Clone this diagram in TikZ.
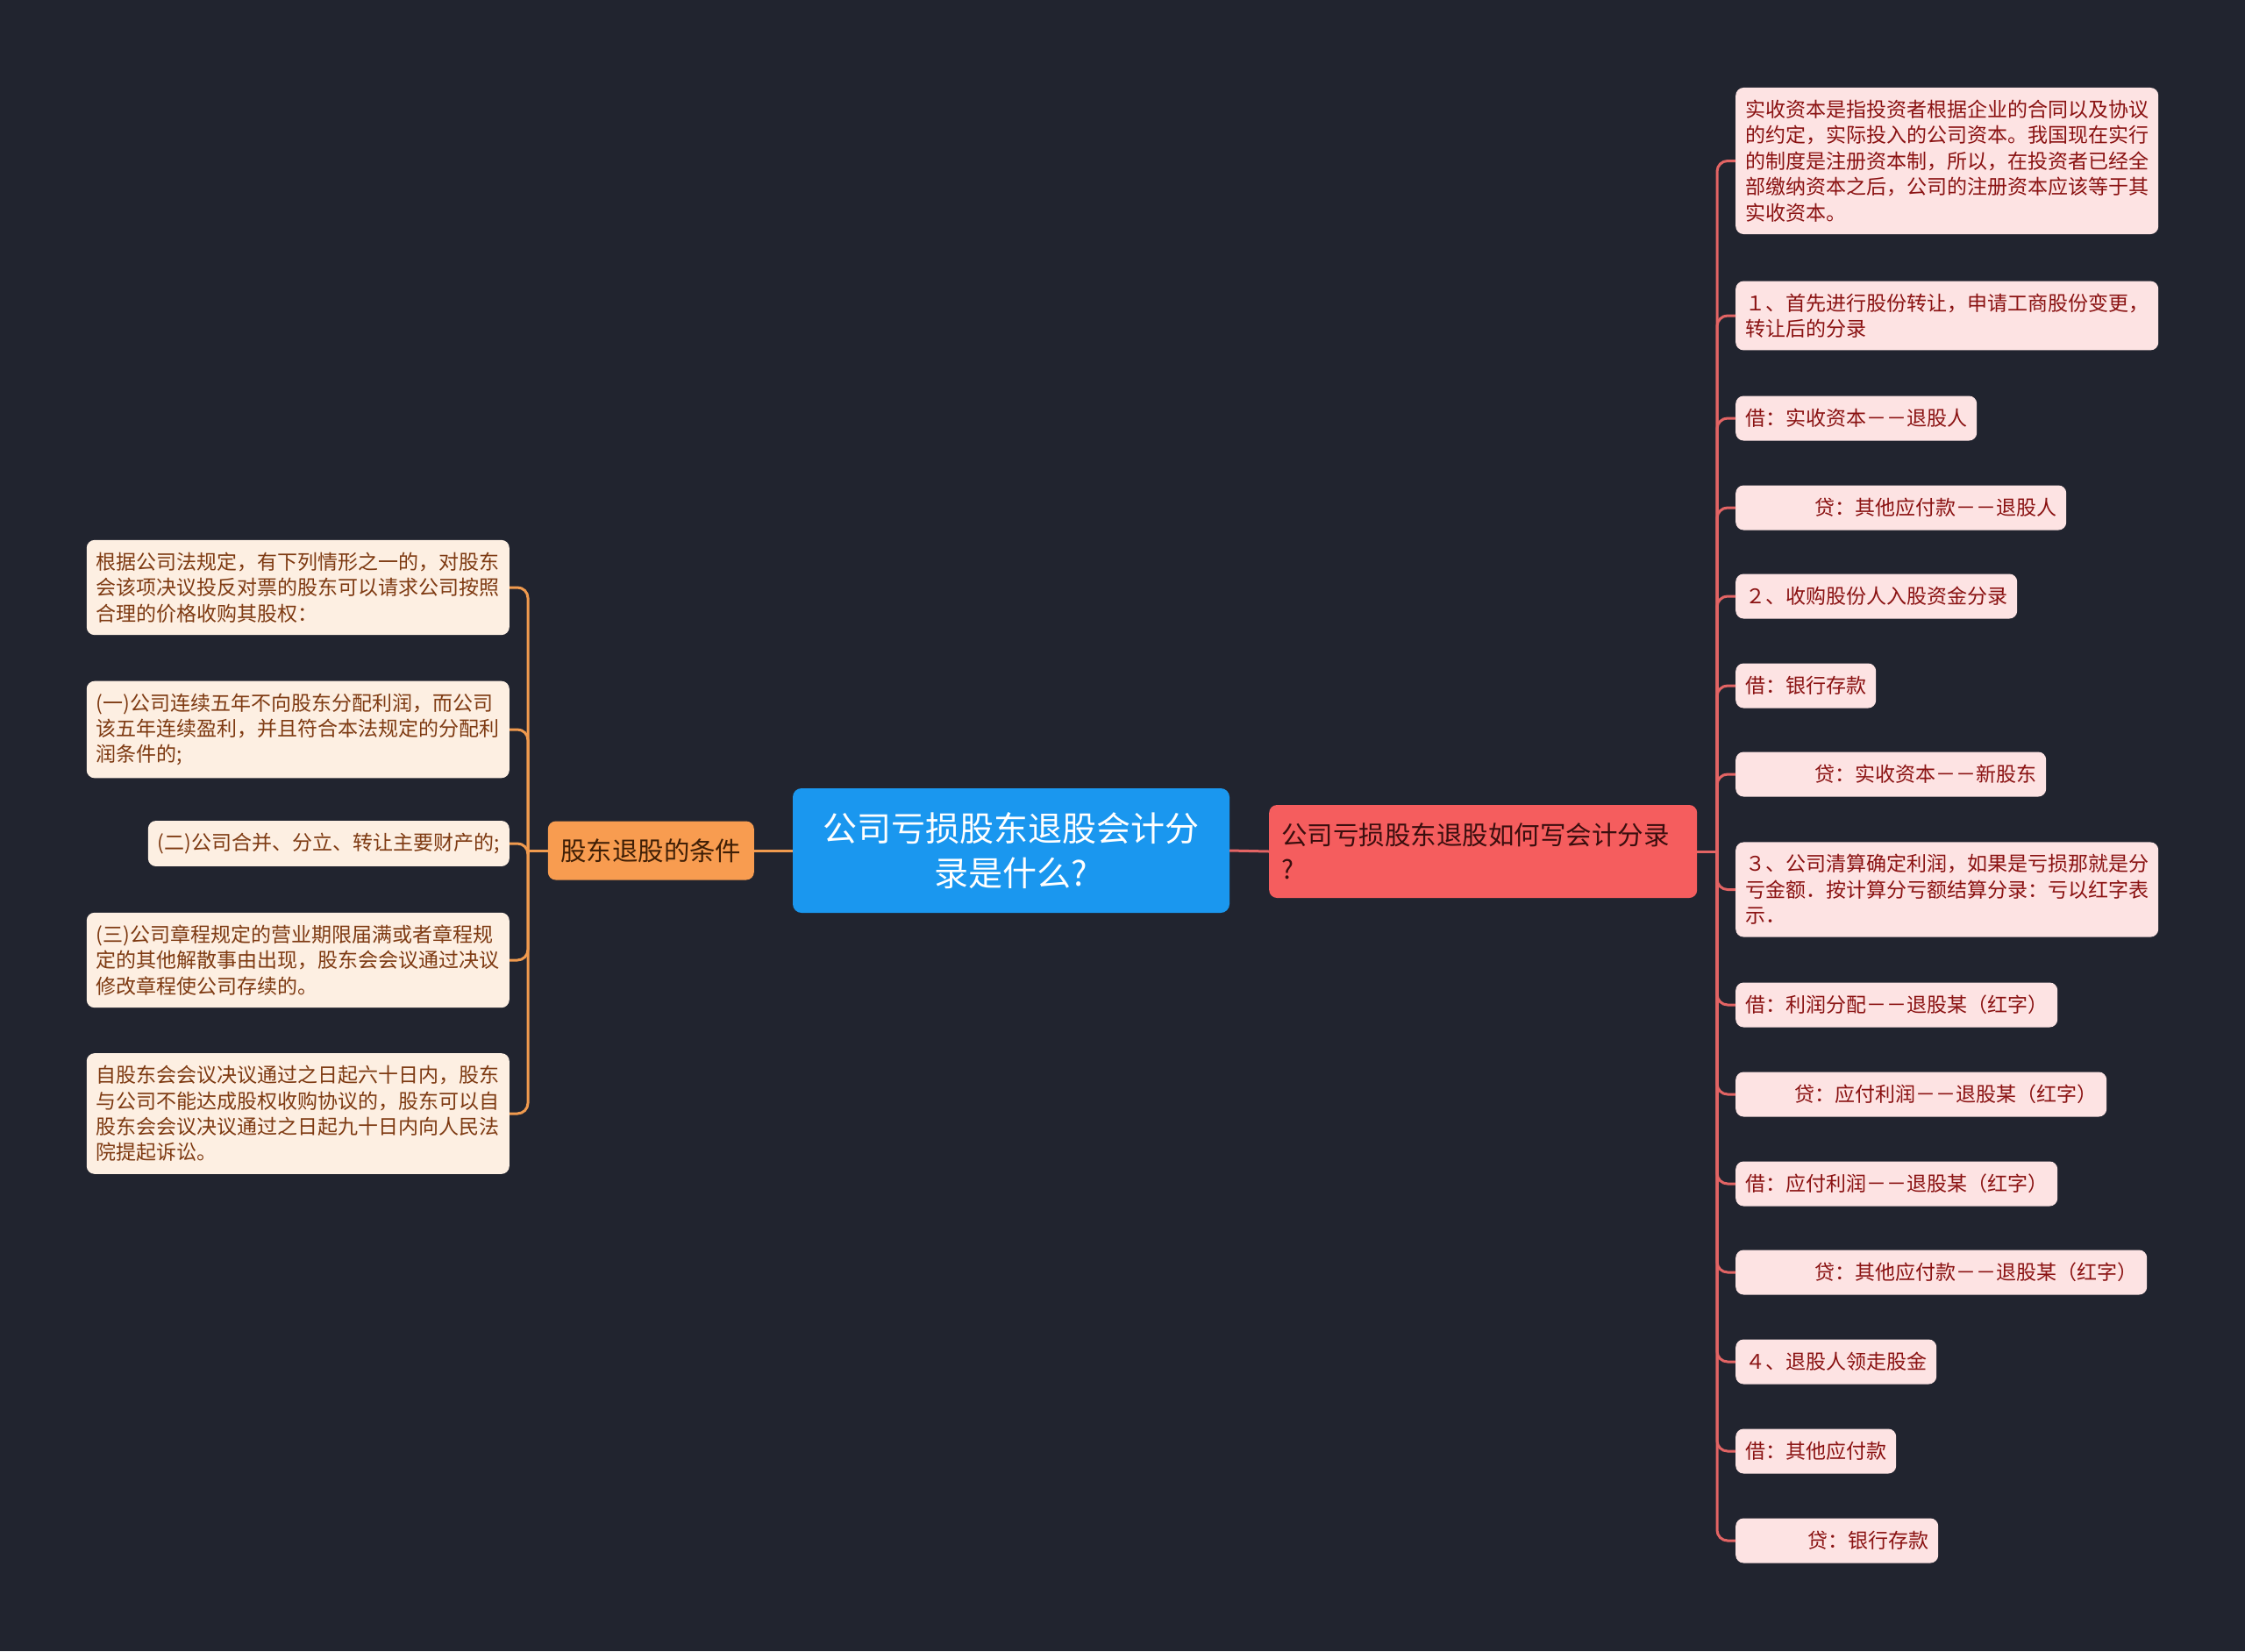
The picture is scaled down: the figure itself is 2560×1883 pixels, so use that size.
\documentclass[tikz,border=0pt]{standalone}
\usepackage{fontspec}
\setmainfont{Noto Sans CJK SC}
\definecolor{bgcol}{HTML}{21242F}
\definecolor{bluefill}{HTML}{1A97EF}
\definecolor{redfill}{HTML}{F55D5E}
\definecolor{orangefill}{HTML}{F89C50}
\definecolor{pinkfill}{HTML}{FDE3E3}
\definecolor{creamfill}{HTML}{FDEFE2}
\definecolor{redtext}{HTML}{8A1212}
\definecolor{browntext}{HTML}{7E3A12}
\definecolor{redline}{HTML}{E36464}
\definecolor{orangeline}{HTML}{F09A4E}
\definecolor{darkred}{HTML}{3A0E0E}
\definecolor{darkbrown}{HTML}{3F1F06}
\begin{document}
\begin{tikzpicture}[x=1pt,y=-1pt,
  leafR/.style={fill=pinkfill, text=redtext, rounded corners=9pt,
    font=\fontsize{23}{29.4}\selectfont, inner xsep=11pt, inner ysep=14pt,
    minimum height=51pt, anchor=west, align=left},
  leafL/.style={fill=creamfill, text=browntext, rounded corners=9pt,
    font=\fontsize{23}{29.4}\selectfont, inner xsep=11pt, inner ysep=14pt,
    minimum height=51pt, anchor=east, align=left},
  conR/.style={draw=redline, line width=3pt, rounded corners=12pt},
  conL/.style={draw=orangeline, line width=3pt, rounded corners=12pt}]
\fill[bgcol] (0,0) rectangle (2560,1883);
\useasboundingbox (0,0) rectangle (2560,1883);

% central and main nodes
\node[fill=bluefill, text=white, rounded corners=10pt, minimum width=498pt,
  minimum height=142pt, align=center, font=\fontsize{39}{50.6}\selectfont]
  (c) at (1153,970) {公司亏损股东退股会计分\\录是什么?};
\node[fill=redfill, text=darkred, rounded corners=9pt, minimum width=488pt,
  minimum height=106pt, text width=460pt, align=left, inner xsep=14pt,
  font=\fontsize{29.5}{39}\selectfont, anchor=west]
  (rm) at (1447,971) {公司亏损股东退股如何写会计分录\\?};
\node[fill=orangefill, text=darkbrown, rounded corners=9pt, minimum width=235pt,
  minimum height=67pt, font=\fontsize{29.4}{36}\selectfont, anchor=east]
  (lm) at (860,970) {股东退股的条件};

% right leaves
\node[leafR] (r1) at (1979,183.5) {实收资本是指投资者根据企业的合同以及协议\\的约定，实际投入的公司资本。我国现在实行\\的制度是注册资本制，所以，在投资者已经全\\部缴纳资本之后，公司的注册资本应该等于其\\实收资本。};
\node[leafR] (r2) at (1979,360) {１、首先进行股份转让，申请工商股份变更，\\转让后的分录};
\node[leafR] (r3) at (1979,477) {借：实收资本－－退股人};
\node[leafR] (r4) at (1979,579) {\hspace*{79pt}贷：其他应付款－－退股人};
\node[leafR] (r5) at (1979,680) {２、收购股份人入股资金分录};
\node[leafR] (r6) at (1979,782) {借：银行存款};
\node[leafR] (r7) at (1979,883) {\hspace*{79pt}贷：实收资本－－新股东};
\node[leafR] (r8) at (1979,1014.5) {３、公司清算确定利润，如果是亏损那就是分\\亏金额．按计算分亏额结算分录：亏以红字表\\示．};
\node[leafR] (r9) at (1979,1146) {借：利润分配－－退股某（红字）};
\node[leafR] (r10) at (1979,1248) {\hspace*{56pt}贷：应付利润－－退股某（红字）};
\node[leafR] (r11) at (1979,1350) {借：应付利润－－退股某（红字）};
\node[leafR] (r12) at (1979,1451) {\hspace*{79pt}贷：其他应付款－－退股某（红字）};
\node[leafR] (r13) at (1979,1553) {４、退股人领走股金};
\node[leafR] (r14) at (1979,1655) {借：其他应付款};
\node[leafR] (r15) at (1979,1757) {\hspace*{71pt}贷：银行存款};

% left leaves
\node[leafL] (l1) at (581,670) {根据公司法规定，有下列情形之一的，对股东\\会该项决议投反对票的股东可以请求公司按照\\合理的价格收购其股权：};
\node[leafL] (l2) at (581,832) {(一)公司连续五年不向股东分配利润，而公司\\该五年连续盈利，并且符合本法规定的分配利\\润条件的;};
\node[leafL] (l3) at (581,962) {(二)公司合并、分立、转让主要财产的;};
\node[leafL] (l4) at (581,1095) {(三)公司章程规定的营业期限届满或者章程规\\定的其他解散事由出现，股东会会议通过决议\\修改章程使公司存续的。};
\node[leafL] (l5) at (581,1270) {自股东会会议决议通过之日起六十日内，股东\\与公司不能达成股权收购协议的，股东可以自\\股东会会议决议通过之日起九十日内向人民法\\院提起诉讼。};

% connectors
\coordinate (JR) at (1958,971);
\coordinate (JL) at (602,970);
\draw[conR] (c.east) -- (rm.west);
\draw[conL] (c.west) -- (lm.east);
\draw[conR] (rm.east) -- (JR);
\draw[conL] (lm.west) -- (JL);
\foreach \i in {1,...,15} { \draw[conR] (JR) |- (r\i.west); }
\foreach \i in {1,...,5} { \draw[conL] (JL) |- (l\i.east); }
\end{tikzpicture}
\end{document}
